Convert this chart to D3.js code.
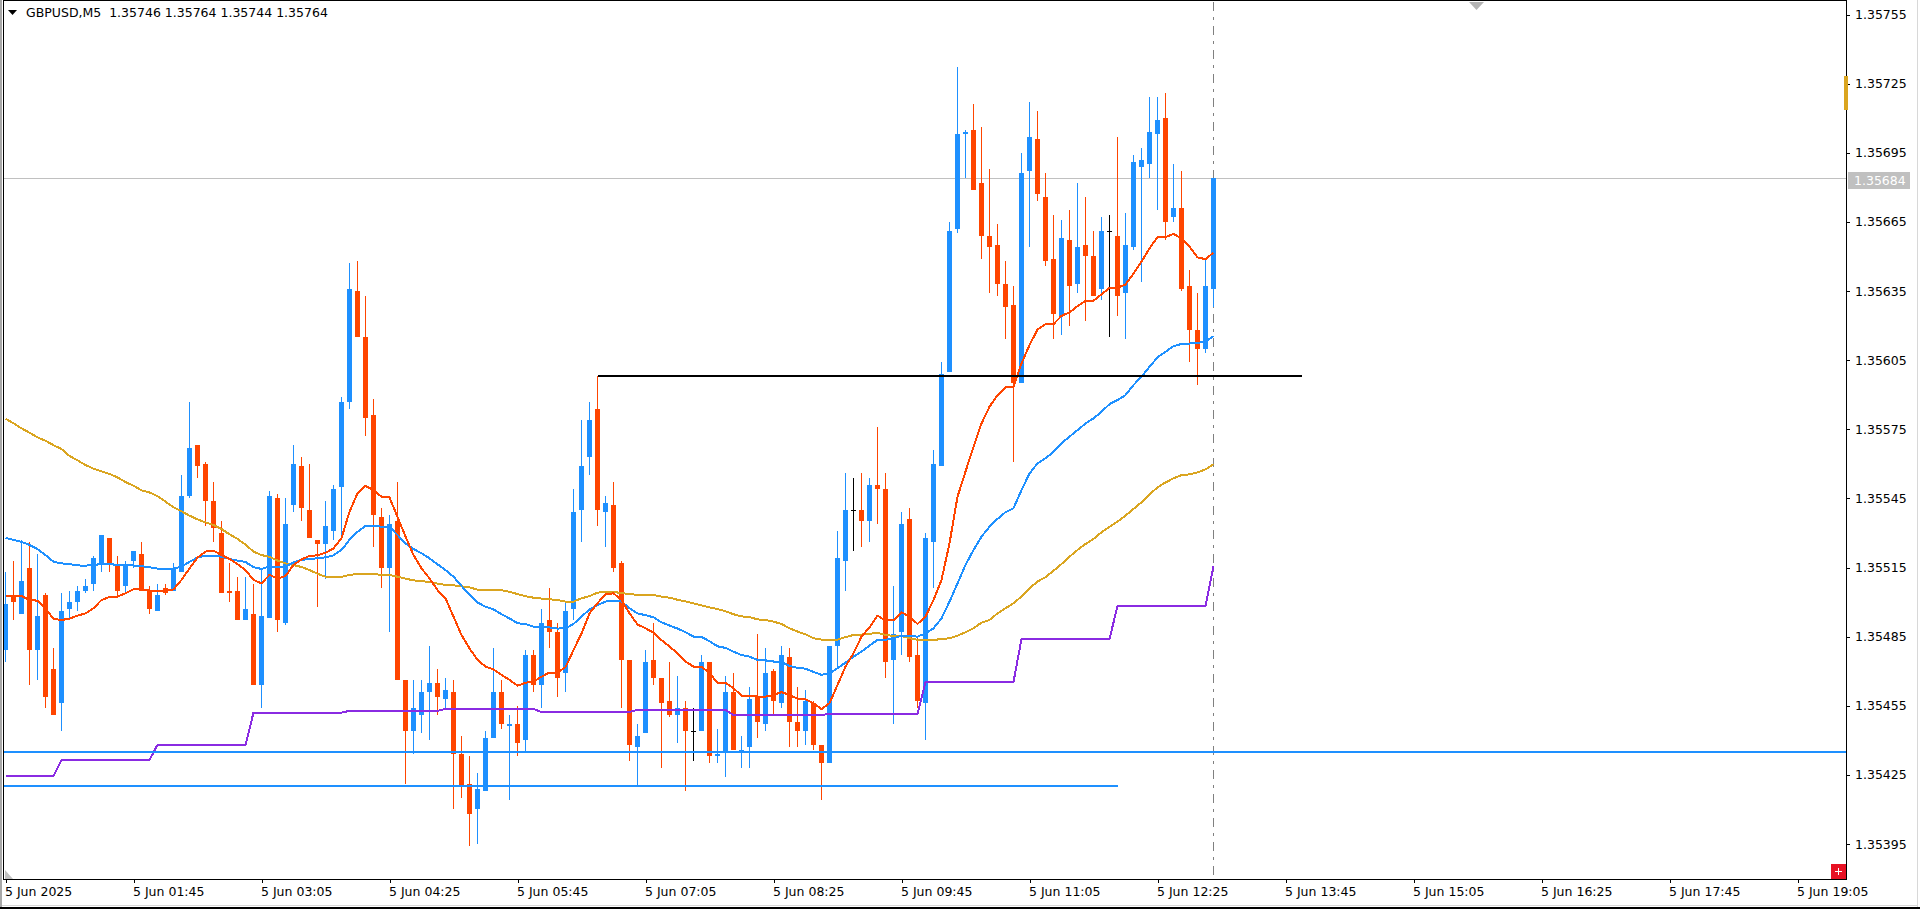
<!DOCTYPE html>
<html>
<head>
<meta charset="utf-8">
<title>GBPUSD,M5</title>
<script src="https://cdn.jsdelivr.net/npm/d3@7/dist/d3.min.js"></script>
<style>
  html, body { margin: 0; padding: 0; background: #fff; overflow: hidden; }
  svg { display: block; }
  text { font-family: "DejaVu Sans", sans-serif; font-size: 12.5px; fill: #000; }
  .axis path { display: none; }
  .axis line { stroke: #000; shape-rendering: crispEdges; }
</style>
</head>
<body>
<svg id="chart" width="1920" height="909"></svg>
<script>
// Quotes are in points above 1.35000 (one point = 0.00001).
const opens = [
  479,503,495,515,479,503,471,456,497,500, 505,508,516,528,516,507,518,521,505,496,
  506,505,513,546,568,560,544,530,505,505, 492,495,464,493,545,491,542,559,540,527,
  525,531,550,587,635,615,581,537,515,535, 466,444,451,461,465,458,461,434,421,410,
  418,441,461,446,447,440,477,464,492,487, 469,497,540,563,584,539,542,517,475,437,
  443,475,467,457,451,454,444,444,474,433, 435,461,435,437,459,447,470,456,476,448,
  444,456,438,430,481,518,540,540,535,551, 549,475,487,536,477,456,526,559,600,662,
  703,705,682,659,655,638,629,595,687,701, 676,649,624,657,638,655,650,636,661,659,
  634,654,689,690,703,710,667,671,637,618, 610,636];
const closes = [
  499,500,509,479,494,459,451,496,500,505, 507,519,529,516,505,516,522,505,497,503,
  504,515,546,567,559,544,532,504,504,492, 497,464,494,546,492,534,560,541,528,525,
  533,549,587,636,615,580,538,515,534,466, 444,454,461,465,459,462,434,420,408,419,
  441,461,447,447,439,477,464,491,487,467, 496,539,559,579,540,543,515,475,438,442,
  474,467,456,451,454,444,444,474,433,434, 461,436,436,458,448,469,457,477,448,444,
  457,438,430,481,519,540,540,535,551,549, 474,486,534,476,457,528,560,599,661,703,
  704,679,659,654,638,628,595,686,702,677, 648,625,658,637,654,650,633,661,661,633,
  655,691,692,704,709,665,671,636,618,610, 637,684];
const highs = [
  513,518,527,526,521,504,480,504,505,507, 510,520,529,528,520,518,522,526,507,508,
  508,517,555,587,568,561,552,535,517,511, 511,508,514,548,547,545,568,563,560,527,
  544,551,589,647,648,633,588,541,538,552, 466,466,466,481,471,467,466,442,433,426,
  444,480,466,451,455,479,479,497,506,491, 500,549,579,587,598,546,552,518,475,447,
  479,491,467,474,468,457,454,477,474,445, 468,469,442,463,486,480,471,481,480,463,
  462,457,438,481,531,556,554,556,554,576, 556,507,539,541,485,530,566,604,665,732,
  705,716,706,688,664,648,637,695,717,713, 686,668,666,670,682,676,661,667,668,702,
  669,694,697,719,719,721,690,687,644,634, 649,684];
const lows = [
  474,492,495,464,466,454,451,444,493,496, 504,505,513,513,503,504,515,505,495,496,
  503,505,513,545,554,533,526,504,500,492, 492,464,454,493,487,490,539,535,528,498,
  510,527,527,584,615,572,524,506,487,466, 421,434,443,440,451,454,410,415,394,395,
  418,441,445,414,433,435,461,454,480,459, 461,492,526,555,533,524,513,454,431,420,
  443,464,428,450,439,418,431,444,430,430, 424,436,428,428,441,444,451,454,437,437,
  438,436,414,430,472,505,522,524,526,534, 467,447,477,474,454,440,506,559,600,660,
  684,679,649,634,633,614,561,595,654,674, 646,614,616,620,634,622,633,631,615,624,
  614,653,639,684,670,657,665,635,604,594, 608,628];

// Moving averages, one value per bar.
const maFast = [
  502.6,502.6,502.6,500.9,500.6,497.3,492.7,492.2,492.8,494.1, 495.1,497.3,500.9,502.2,502.4,503.8,505.5,505.5,505,505,
  505,505.5,509.6,514.6,519.3,521.9,522.3,520.4,518.7,516.5, 513.9,509.6,508.1,511.8,510.2,511.3,516.1,518.5,520,520.3,
  521.4,523.3,527.7,539.2,547.2,550.4,548.6,545.7,545.4,537, 528.4,520.4,514.6,510.3,505.2,501.6,493.7,485.7,479.9,474.9,
  472,470.8,468.4,466.2,463.7,465,465.5,467.6,469.4,469.4, 471.7,479.2,486.4,495.1,499.5,503.4,503.8,500.9,495.1,490.3,
  488.6,486.7,483.5,480.7,477.8,474.2,472,472,469.1,465, 465,462.6,459.4,459.3,459,459,459.7,460.9,459.7,458,
  457.8,456.1,453.5,456.1,464,472,477.8,485,489,494.1, 492,492,495.6,493.7,490.5,493.7,500.9,509.6,525.5,545.7,
  556.6,567.4,577.5,584.8,589.8,593.2,593.4,603.6,611.5,618.3, 620.6,620.6,624.2,625.7,628.4,630.8,630.8,633.5,636.4,636.4,
  637.8,642.6,647.7,653.5,658.4,658.4,659.8,657.8,654.2,649.6, 648.8,651.7];
const maMid = [
  527.8,527,526.1,524.8,523,520.4,517.5,516.8,516.5,515.9, 515.8,516.1,516.5,516.5,516.1,515.9,515.9,515.6,515.1,514.5,
  514.5,514.5,515.4,517.5,519.3,520.1,520.1,519.7,518.7,518, 517.4,515.1,514.4,515.4,515.4,515.4,517.2,518.3,518.7,519,
  519.4,520.3,522.6,527,530.5,533,533.2,532.7,532.7,529.1, 525.5,523,521.2,519,516.4,513.9,511,507,503.1,499.8,
  498,496.8,494.7,492.9,490.8,490.5,489.3,489.3,489,488.5, 488.6,490.5,493.7,496.8,498.7,500.2,500.6,500.2,497.3,495.1,
  494.3,493.4,491.2,489.8,488.5,486.9,485,484.9,483,480.8, 480.1,478.5,477,476.3,474.9,474.7,474.2,474,472.3,471.4,
  471.1,469.7,468.4,469.1,471.3,473.7,476.3,478.5,481.1,483.6, 483.6,484.3,485.4,485.3,485,486.4,488.6,492.9,500.2,508.1,
  516.1,522.6,528.4,532.7,536.1,539,540.7,548.6,555.8,560.2, 562.4,565.2,568.9,571.8,574.6,577.5,579.7,582.6,585.9,587.7,
  589.8,594.2,597.8,602.1,606.2,608.6,611.1,612,612.2,612.5, 613,615.4];
const maSlow = [
  579.6,577.6,575.4,573.5,571.5,570,568.1,566.4,563.4,561.5, 559.5,557.9,556.7,555.6,554.1,552.1,550.5,548.5,547.6,545.9,
  543.6,541.1,539.4,537.5,535.9,534.6,533.4,531.7,529.4,527.4, 524.9,521.9,520.4,519.6,518,516.8,516.1,515.2,513.9,512.3,
  511,510.9,510.9,511.8,512.2,512.3,512.2,511.8,511.8,511, 510.2,509.4,509.1,508.7,508,507.4,507.3,506.8,506.4,505.4,
  505.2,505.2,505.2,504.4,503.5,502.5,501.9,501.5,501.2,500.9, 500.2,500.2,501.6,502.6,504.1,504.4,504.4,503.9,503.5,503.1,
  503.1,503.1,502.4,501.9,501,500.3,499.4,498.6,497.7,497, 496,494.7,493.8,493.5,492.5,492.2,491.5,490.5,488.6,487.2,
  486,484.3,483.7,483.7,483.7,484.8,485.7,485.9,486.2,486.7, 485.7,485.3,485.3,484.3,483.6,483.6,483.6,483.9,484.3,485.4,
  486.9,488.6,491.1,492.2,495.1,497.3,499.5,502.4,506,508.9, 510.8,513.6,516.5,519.7,522.6,525.2,527.4,530.3,532.7,534.9,
  537.5,540.4,543.3,546.7,549.8,551.9,553.7,555.1,555.4,556.3, 557.6,559.8];

// Stepped higher-timeframe level: the bar each level starts on, and its value.
const stepBars   = [0, 7, 19, 31, 43, 55, 67, 79, 91, 103, 115, 127, 139, 151];
const stepLevels = [424.5, 431.5, 438, 452, 452.8, 453.6, 452.3, 453.2, 451, 451.5, 465.3, 484, 498.3, 515.8];

// Horizontal chart objects, in points, with their first and last bar.
const supportFull  = 435;
const supportShort = 420;
const supportShortEnd = 139;
const resistance = 598;
const resistanceBars = [74, 162];
const bidPoints = 684;

const priceTicks = [135755,135725,135695,135665,135635,135605,135575,135545,135515,135485,135455,135425,135395];
const timeLabels = ["5 Jun 2025","5 Jun 01:45","5 Jun 03:05","5 Jun 04:25","5 Jun 05:45","5 Jun 07:05","5 Jun 08:25",
                    "5 Jun 09:45","5 Jun 11:05","5 Jun 12:25","5 Jun 13:45","5 Jun 15:05","5 Jun 16:25","5 Jun 17:45","5 Jun 19:05"];
const barsPerLabel = 16;
const lastBar = 151;
const titleText = "GBPUSD,M5  1.35746 1.35764 1.35744 1.35764";

const BLUE = "#1E90FF", ORANGE = "#FF4500", GOLD = "#DAA520", PURPLE = "#8A2BE2", SILVER = "#C0C0C0";

const plot = { left: 4, right: 1846, top: 1, bottom: 879 };

const svg = d3.select("#chart");
const px = p => 1.35 + p / 1e5;

const x = d3.scaleLinear().domain([0, 230]).range([5.5, 5.5 + 8 * 230]);
const y = d3.scaleLinear().domain([px(755), px(395)]).range([14.5, 844]);
const yPts = p => y(px(p));

// Window frame
svg.append("rect").attr("x", 0).attr("y", 0).attr("width", 2).attr("height", 909).attr("fill", "#a8a8a8");
svg.append("rect").attr("x", 1917).attr("y", 0).attr("width", 1).attr("height", 907).attr("fill", "#d8d8d8");
svg.append("rect").attr("x", 2).attr("y", 905).attr("width", 1916).attr("height", 1).attr("fill", "#d8d8d8");
svg.append("rect").attr("x", 0).attr("y", 907).attr("width", 1920).attr("height", 2).attr("fill", "#000");

// Corner shape behind the chart
svg.append("path").attr("d", d3.line()([[5, 870], [5, 879], [13, 879]])).attr("fill", SILVER);

// Current-price line and last-bar marker
svg.append("line").attr("x1", plot.left).attr("x2", plot.right)
  .attr("y1", Math.round(yPts(bidPoints)) + 0.5).attr("y2", Math.round(yPts(bidPoints)) + 0.5)
  .attr("stroke", SILVER).attr("stroke-width", 1);
svg.append("line").attr("x1", x(lastBar)).attr("x2", x(lastBar)).attr("y1", plot.top + 1).attr("y2", plot.bottom)
  .attr("stroke", "#808080").attr("stroke-width", 1).attr("stroke-dasharray", "9 6 3 6");

// Candles
const bars = d3.range(opens.length);
const colorOf = i => closes[i] > opens[i] ? BLUE : closes[i] < opens[i] ? ORANGE : "#000";

const g = svg.append("g").attr("shape-rendering", "crispEdges");
g.selectAll("rect.wick").data(bars).join("rect").attr("class", "wick")
  .attr("x", i => x(i) - 0.5).attr("width", 1)
  .attr("y", i => yPts(highs[i]))
  .attr("height", i => yPts(lows[i]) - yPts(highs[i]))
  .attr("fill", colorOf);
g.selectAll("rect.body").data(bars).join("rect").attr("class", "body")
  .attr("x", i => x(i) - 2.5)
  .attr("width", 5)
  .attr("y", i => yPts(Math.max(opens[i], closes[i])))
  .attr("height", i => Math.max(1, yPts(Math.min(opens[i], closes[i])) - yPts(Math.max(opens[i], closes[i]))))
  .attr("fill", colorOf);

// Indicator lines
const lineGen = d3.line().x(d => x(d[0])).y(d => yPts(d[1]));
const addLine = (points, color) => svg.append("path").attr("d", lineGen(points))
  .attr("fill", "none").attr("stroke", color).attr("stroke-width", 2)
  .attr("stroke-linejoin", "round").attr("shape-rendering", "crispEdges");

const stepPoints = [];
stepBars.forEach((b, k) => {
  stepPoints.push([b, stepLevels[k]]);
  if (k < stepBars.length - 1) stepPoints.push([stepBars[k + 1] - 1, stepLevels[k]]);
});
addLine(stepPoints, PURPLE);
addLine(maSlow.map((v, i) => [i, v]), GOLD);
addLine(maMid.map((v, i) => [i, v]), BLUE);
addLine(maFast.map((v, i) => [i, v]), ORANGE);

// Horizontal levels
const hline = (x1, x2, pts, color, w) => svg.append("line")
  .attr("x1", x1).attr("x2", x2).attr("y1", Math.round(yPts(pts))).attr("y2", Math.round(yPts(pts)))
  .attr("stroke", color).attr("stroke-width", w).attr("shape-rendering", "crispEdges");
hline(plot.left, plot.right, supportFull, BLUE, 2);
hline(plot.left, x(supportShortEnd), supportShort, BLUE, 2);
hline(x(resistanceBars[0]), x(resistanceBars[1]), resistance, "#000", 2);

// Plot border
svg.append("path").attr("d", `M${plot.left - 0.5},${plot.bottom + 0.5}V${plot.top - 0.5}H${plot.right + 0.5}V${plot.bottom + 0.5}H${plot.left - 0.5}`)
  .attr("fill", "none").attr("stroke", "#000").attr("stroke-width", 1).attr("shape-rendering", "crispEdges");

// Scroll marker on the top edge
svg.append("path").attr("d", d3.line()([[1469, 2], [1484, 2], [1476.5, 10]])).attr("fill", "#b4b4b4");

// Price axis
const yAxis = d3.axisRight(y).tickValues(priceTicks.map(p => p / 1e5)).tickSize(3).tickPadding(4)
  .tickFormat(d3.format(".5f"));
svg.append("g").attr("class", "axis").attr("transform", `translate(${plot.right + 1},0)`).call(yAxis)
  .selectAll("text").attr("x", 8);

// Time axis
const xAxis = d3.axisBottom(x).tickValues(timeLabels.map((_, k) => k * barsPerLabel)).tickSize(3)
  .tickFormat((d, k) => timeLabels[k]);
svg.append("g").attr("class", "axis").attr("transform", `translate(0,${plot.bottom + 1})`).call(xAxis)
  .selectAll("text").attr("text-anchor", "start").attr("dx", -1).attr("y", 7);

// Current-price tag, marker on the price axis
const tagY = Math.round(yPts(bidPoints));
svg.append("rect").attr("x", 1848).attr("y", tagY - 6).attr("width", 62).attr("height", 17).attr("fill", SILVER);
svg.append("text").attr("x", 1854).attr("y", tagY + 7).style("fill", "#fff").text(d3.format(".5f")(px(bidPoints)));
svg.append("rect").attr("x", 1844).attr("y", 76).attr("width", 4).attr("height", 34).attr("fill", GOLD);

// Title
svg.append("path").attr("d", d3.line()([[8, 10], [17, 10], [12.5, 15]])).attr("fill", "#000");
svg.append("text").attr("x", 26).attr("y", 17).style("white-space", "pre").text(titleText);

// Red "+" button
svg.append("rect").attr("x", 1831).attr("y", 864).attr("width", 15).attr("height", 15).attr("fill", "#E81123");
svg.append("path").attr("d", "M1835,871.5H1842M1838.5,868V875").attr("stroke", "#fff").attr("stroke-width", 1.5).attr("shape-rendering", "crispEdges");
</script>
</body>
</html>
